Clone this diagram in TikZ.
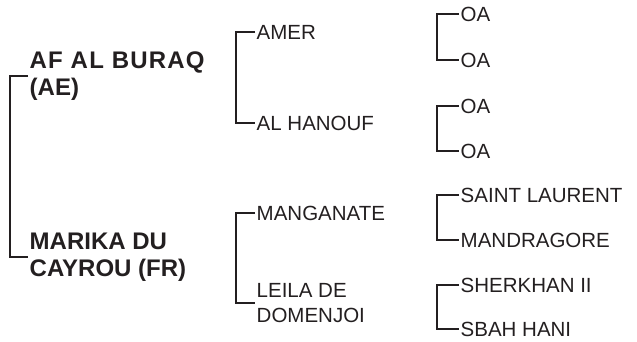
\documentclass[tikz,border=0pt]{standalone}
\usepackage{fontspec}
\setmainfont{Liberation Sans}
\definecolor{ink}{HTML}{231F20}
\begin{document}
\begin{tikzpicture}[x=1pt,y=-1pt,
  lbl/.style={anchor=west,inner sep=1.5pt,text=ink,align=left,font=\fontsize{20.5}{25}\selectfont},
  main/.style={lbl,font=\fontsize{24}{27}\selectfont\bfseries},
  br/.style={draw=ink,line width=2pt}]
\useasboundingbox (0,0) rectangle (637,341);
\coordinate (v1) at (10,0);
\coordinate (v2) at (236,0);
\coordinate (v3) at (437,0);
% level 1
\node[main] (af) at (28,76) {{\addfontfeatures{LetterSpace=5}AF AL BURAQ}\\(AE)};
\node[main] (ma) at (28,257) {MARIKA DU\\CAYROU (FR)};
% level 2
\node[lbl] (amer) at (255,32) {AMER};
\node[lbl] (alh) at (255,123) {AL HANOUF};
\node[lbl] (mang) at (255,213) {MANGANATE};
\node[lbl] (leila) at (255,303) {LEILA DE\\DOMENJOI};
% level 3
\node[lbl] (oa1) at (459,14) {OA};
\node[lbl] (oa2) at (459,60) {OA};
\node[lbl] (oa3) at (459,106) {OA};
\node[lbl] (oa4) at (459,151) {OA};
\node[lbl] (sl) at (459,195) {SAINT LAURENT};
\node[lbl] (mand) at (459,240) {MANDRAGORE};
\node[lbl] (sher) at (459,285) {SHERKHAN II};
\node[lbl] (sbah) at (459,329) {SBAH HANI};
% brackets
\draw[br] (af.west) -- (af.west -| v1) -- (ma.west -| v1) -- (ma.west);
\draw[br] (amer.west) -- (amer.west -| v2) -- (alh.west -| v2) -- (alh.west);
\draw[br] (mang.west) -- (mang.west -| v2) -- (leila.west -| v2) -- (leila.west);
\draw[br] (oa1.west) -- (oa1.west -| v3) -- (oa2.west -| v3) -- (oa2.west);
\draw[br] (oa3.west) -- (oa3.west -| v3) -- (oa4.west -| v3) -- (oa4.west);
\draw[br] (sl.west) -- (sl.west -| v3) -- (mand.west -| v3) -- (mand.west);
\draw[br] (sher.west) -- (sher.west -| v3) -- (sbah.west -| v3) -- (sbah.west);
\end{tikzpicture}
\end{document}
